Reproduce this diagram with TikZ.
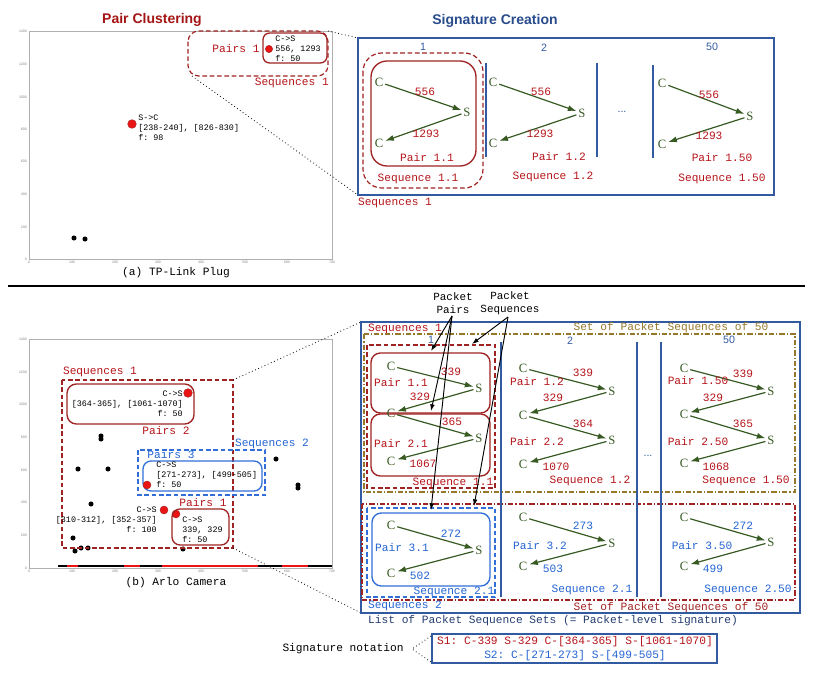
\documentclass[tikz,border=0pt]{standalone}
\usepackage{fontspec}
\setmainfont{Liberation Serif}
\setsansfont{Liberation Sans}
\setmonofont{Liberation Mono}
\usetikzlibrary{arrows.meta}
\usetikzlibrary{positioning}

\definecolor{titlered}{RGB}{165,20,20}
\definecolor{boxred}{RGB}{160,35,35}
\definecolor{txtred}{RGB}{180,20,25}
\definecolor{dotred}{RGB}{235,20,20}
\definecolor{titleblue}{RGB}{40,75,140}
\definecolor{frameblue}{RGB}{50,90,160}
\definecolor{navy}{RGB}{35,60,110}
\definecolor{txtblue}{RGB}{35,100,210}
\definecolor{boxblue}{RGB}{50,110,215}
\definecolor{arrgreen}{RGB}{55,90,35}
\definecolor{setolive}{RGB}{150,120,45}
\definecolor{axisgray}{RGB}{175,175,175}

\begin{document}
\begin{tikzpicture}[x=0.75pt,y=-0.75pt,
  mono/.style={font=\fontsize{8.4}{10}\ttfamily,inner sep=0pt},
  scattxt/.style={font=\fontsize{6.3}{7.5}\ttfamily,inner sep=0pt},
  tick/.style={font=\fontsize{2.6}{3}\sffamily,text=gray,inner sep=0pt},
  ep/.style={font=\fontsize{9.5}{10}\rmfamily,text=arrgreen,inner sep=1.3pt},
  flow/.style={draw=arrgreen,line width=0.9pt,-{Latex[length=6.5pt,width=4.5pt]}},
  pairbox/.style={draw=boxred,line width=1pt,rounded corners=7pt},
  bluebox/.style={draw=boxblue,line width=1pt,rounded corners=7pt},
  blkdot/.style={circle,fill=black,inner sep=0pt,minimum size=3.8pt},
  reddot/.style={circle,fill=dotred,draw=boxred,line width=0.3pt,inner sep=0pt,minimum size=5.5pt},
  zoomline/.style={dotted,line width=0.6pt},
  note/.style={-{Latex[length=5pt,width=3.5pt]},line width=0.7pt},
  colnum/.style={font=\fontsize{8}{9}\sffamily,text=frameblue,inner sep=0pt},
  sep/.style={frameblue,line width=0.9pt}]
\useasboundingbox (0,0) rectangle (817,677);

% ---------- (a) TP-Link Plug ----------
\node[font=\fontsize{10.5}{12}\sffamily\bfseries,text=titlered] (ttla) at (152,20) {Pair Clustering};
\draw[axisgray,line width=0.5pt] (29,31) rectangle (332,259);
\node[tick,anchor=east] (ya0) at (27,259) {0};
\node[tick,anchor=east] (ya1) at (27,227) {200};
\node[tick,anchor=east] (ya2) at (27,194) {400};
\node[tick,anchor=east] (ya3) at (27,161) {600};
\node[tick,anchor=east] (ya4) at (27,129) {800};
\node[tick,anchor=east] (ya5) at (27,97) {1000};
\node[tick,anchor=east] (ya6) at (27,64) {1200};
\node[tick,anchor=east] (ya7) at (27,31) {1400};
\node[tick,anchor=north] (xa0) at (29,261) {0};
\node[tick,anchor=north] (xa1) at (72,261) {100};
\node[tick,anchor=north] (xa2) at (115,261) {200};
\node[tick,anchor=north] (xa3) at (158,261) {300};
\node[tick,anchor=north] (xa4) at (201,261) {400};
\node[tick,anchor=north] (xa5) at (245,261) {500};
\node[tick,anchor=north] (xa6) at (287,261) {600};
\node[tick,anchor=north] (xa7) at (332,261) {700};

\node[blkdot] (da1) at (74,238) {};
\node[blkdot] (da2) at (85,239) {};
\node[reddot,minimum size=6.5pt] (da3) at (132,124) {};
\node[scattxt,anchor=west,align=left] (ta3) at (138,127.5) {S->C\\{}[238-240], [826-830]\\f: 98};

\draw[boxred,line width=0.9pt,rounded corners=8pt,dash pattern=on 3.5pt off 2pt] (188,31) rectangle (328,76);
\node[mono,text=txtred] (pa1) at (236,49) {Pairs 1};
\draw[pairbox,rounded corners=5pt] (263,33) rectangle (327,63);
\node[reddot] (da4) at (269,49) {};
\node[scattxt,anchor=west,align=left] (ta4) at (275,49) {C->S\\556, 1293\\f: 50};
\node[mono,text=txtred,anchor=east] (sqa1) at (329,83) {Sequences 1};
\node[mono] (capa) at (176,273) {(a) TP-Link Plug};

\coordinate (za1) at (328,31);
\coordinate (za2) at (192,76);
\coordinate (sa1) at (358,38);
\coordinate (sa2) at (358,195);
\draw[zoomline] (za1) -- (sa1);
\draw[zoomline] (za2) -- (sa2);

% signature creation
\node[font=\fontsize{10.5}{12}\sffamily\bfseries,text=titleblue] (ttlb) at (495,21) {Signature Creation};
\draw[frameblue,line width=0.9pt] (358,38) rectangle (774,195);
\node[colnum] (ka1) at (423,47) {1};
\node[colnum] (ka2) at (544,48) {2};
\node[colnum] (ka50) at (712,47) {50};

\draw[boxred,line width=0.9pt,rounded corners=14pt,dash pattern=on 3.5pt off 2pt] (363,53) rectangle (483,188);
\draw[pairbox,rounded corners=12pt] (371,61) rectangle (476,166);
\node[ep] (c11) at (379,82) {C};
\node[ep] (s11) at (467,112) {S};
\node[ep] (c12) at (379,143) {C};
\draw[flow] (c11) -- (s11);
\draw[flow] (s11) -- (c12);
\node[mono,text=txtred] (n11) at (425,92) {556};
\node[mono,text=txtred] (n12) at (426,134) {1293};
\node[mono,text=txtred] (pr11) at (427,157) {Pair 1.1};
\node[mono,text=txtred] (sq11) at (418,179) {Sequence 1.1};
\draw[sep] (486,63) -- (486,157);

\node[ep] (c21) at (493,82) {C};
\node[ep] (s21) at (582,113) {S};
\node[ep] (c22) at (493,143) {C};
\draw[flow] (c21) -- (s21);
\draw[flow] (s21) -- (c22);
\node[mono,text=txtred] (n21) at (541,92) {556};
\node[mono,text=txtred] (n22) at (540,134) {1293};
\node[mono,text=txtred] (pr12) at (559,156) {Pair 1.2};
\node[mono,text=txtred] (sq12) at (553,177) {Sequence 1.2};
\draw[sep] (597,63) -- (597,157);
\node[font=\fontsize{8}{9}\sffamily,text=frameblue] (dots1) at (622,112) {...};
\draw[sep] (653,65) -- (653,158);

\node[ep] (c31) at (662,83) {C};
\node[ep] (s31) at (750,116) {S};
\node[ep] (c32) at (662,144) {C};
\draw[flow] (c31) -- (s31);
\draw[flow] (s31) -- (c32);
\node[mono,text=txtred] (n31) at (709,95) {556};
\node[mono,text=txtred] (n32) at (709,136) {1293};
\node[mono,text=txtred] (pr150) at (722,157) {Pair 1.50};
\node[mono,text=txtred] (sq150) at (722,179) {Sequence 1.50};
\node[mono,text=txtred] (sqa2) at (395,203) {Sequences 1};

\draw[line width=0.8pt] (8,286) -- (805,286);

% ---------- (b) Arlo Camera ----------
\draw[axisgray,line width=0.5pt] (29,339) rectangle (332,568);
\node[tick,anchor=east] (yb0) at (27,568) {0};
\node[tick,anchor=east] (yb1) at (27,535) {200};
\node[tick,anchor=east] (yb2) at (27,502) {400};
\node[tick,anchor=east] (yb3) at (27,470) {600};
\node[tick,anchor=east] (yb4) at (27,437) {800};
\node[tick,anchor=east] (yb5) at (27,404) {1000};
\node[tick,anchor=east] (yb6) at (27,372) {1200};
\node[tick,anchor=east] (yb7) at (27,339) {1400};
\node[tick,anchor=north] (xb0) at (29,570) {0};
\node[tick,anchor=north] (xb1) at (72,570) {100};
\node[tick,anchor=north] (xb2) at (115,570) {200};
\node[tick,anchor=north] (xb3) at (158,570) {300};
\node[tick,anchor=north] (xb4) at (201,570) {400};
\node[tick,anchor=north] (xb5) at (245,570) {500};
\node[tick,anchor=north] (xb6) at (287,570) {600};
\node[tick,anchor=north] (xb7) at (332,570) {700};

\draw[line width=2.2pt] (58,566) -- (332,566);
\draw[dotred,line width=2pt] (67,566) -- (78,566);
\draw[dotred,line width=2pt] (124,566) -- (140,566);
\draw[dotred,line width=2pt] (162,566) -- (258,566);
\draw[dotred,line width=2pt] (282,566) -- (308,566);

\node[blkdot] (db1) at (101,436) {};
\node[blkdot] (db2) at (101,439) {};
\node[blkdot] (db3) at (78,469) {};
\node[blkdot] (db4) at (108,469) {};
\node[blkdot] (db5) at (91,504) {};
\node[blkdot] (db6) at (73,538) {};
\node[blkdot] (db7) at (75,551) {};
\node[blkdot] (db8) at (81,548) {};
\node[blkdot] (db9) at (88,548) {};
\node[blkdot] (db10) at (183,549) {};
\node[blkdot] (db11) at (276,459) {};
\node[blkdot] (db12) at (298,485) {};
\node[blkdot] (db13) at (298,488) {};

\draw[boxred,line width=0.9pt,dash pattern=on 3.5pt off 2pt] (62,380) rectangle (233,548);
\node[mono,text=txtred] (sqb1) at (100,372) {Sequences 1};
\draw[pairbox] (67,384) rectangle (194,424);
\node[reddot,minimum size=6.5pt] (dr1) at (188,393) {};
\node[scattxt,anchor=east,align=right] (tr1) at (183,403.5) {C->S\\{}[364-365], [1061-1070]\\f: 50};
\node[mono,text=txtred] (pb2) at (166,430) {Pairs 2};

\draw[boxblue,line width=0.9pt,dash pattern=on 3.5pt off 2pt] (138,450) rectangle (265,495);
\node[mono,text=txtblue] (sqb2) at (272,444) {Sequences 2};
\node[mono,text=txtblue] (pb3) at (171,454) {Pairs 3};
\draw[bluebox,rounded corners=6pt] (143,461) rectangle (262,491);
\node[reddot,minimum size=6pt] (dr2) at (147,485) {};
\node[scattxt,anchor=west,align=left] (tr2) at (156,475) {C->S\\{}[271-273], [499-505]\\f: 50};

\node[reddot,minimum size=6pt] (dr3) at (164,510) {};
\node[scattxt,anchor=east,align=right] (tr3) at (157,520) {C->S\\{}[310-312], [352-357]\\f: 100};
\node[reddot,minimum size=6pt] (dr4) at (176,514) {};
\node[mono,text=txtred] (pb1) at (203,502) {Pairs 1};
\draw[pairbox,rounded corners=6pt] (172,509) rectangle (229,545);
\node[scattxt,anchor=west,align=left] (tr4) at (182,530) {C->S\\339, 329\\f: 50};
\node[mono] (capb) at (176,583) {(b) Arlo Camera};

\coordinate (zb1) at (233,380);
\coordinate (zb2) at (233,548);
\coordinate (sb1) at (361,322);
\coordinate (sb2) at (361,613);
\draw[zoomline] (zb1) -- (sb1);
\draw[zoomline] (zb2) -- (sb2);

% packet-level signature
\draw[frameblue,line width=0.9pt] (361,322) rectangle (800,613);
\node[mono,text=txtred] (sqc1) at (405,329) {Sequences 1};
\node[mono,text=setolive] (set1) at (671,328) {Set of Packet Sequences of 50};
\draw[setolive,line width=0.9pt,dash pattern=on 4pt off 1.5pt on 1pt off 1.5pt] (364,334) rectangle (795,492);
\node[colnum] (kb1) at (431,340) {1};
\node[colnum] (kb2) at (570,341) {2};
\node[colnum] (kb50) at (729,340) {50};

\draw[boxred,line width=0.9pt,dash pattern=on 3.5pt off 2pt] (367,345) rectangle (495,488);
\draw[pairbox] (371,353) rectangle (490,413);
\draw[pairbox] (371,414) rectangle (490,476);
\node[ep] (u11) at (391,366) {C};
\node[ep] (v11) at (479,388) {S};
\node[ep] (u12) at (391,413) {C};
\node[ep] (v12) at (479,438) {S};
\node[ep] (u13) at (391,461) {C};
\draw[flow] (u11) -- (v11);
\draw[flow] (v11) -- (u12);
\draw[flow] (u12) -- (v12);
\draw[flow] (v12) -- (u13);
\node[mono,text=txtred] (m11) at (451,372) {339};
\node[mono,text=txtred] (q11) at (401,382) {Pair 1.1};
\node[mono,text=txtred] (m12) at (420,397) {329};
\node[mono,text=txtred] (m13) at (452,422) {365};
\node[mono,text=txtred] (q21) at (401,443) {Pair 2.1};
\node[mono,text=txtred] (m14) at (423,464) {1067};
\node[mono,text=txtred] (r11) at (453,483) {Sequence 1.1};

\node[ep] (u21) at (523,368) {C};
\node[ep] (v21) at (612,391) {S};
\node[ep] (u22) at (523,415) {C};
\node[ep] (v22) at (612,440) {S};
\node[ep] (u23) at (523,464) {C};
\draw[flow] (u21) -- (v21);
\draw[flow] (v21) -- (u22);
\draw[flow] (u22) -- (v22);
\draw[flow] (v22) -- (u23);
\node[mono,text=txtred] (m21) at (583,373) {339};
\node[mono,text=txtred] (q12) at (537,381) {Pair 1.2};
\node[mono,text=txtred] (m22) at (553,398) {329};
\node[mono,text=txtred] (m23) at (583,424) {364};
\node[mono,text=txtred] (q22) at (537,441) {Pair 2.2};
\node[mono,text=txtred] (m24) at (556,467) {1070};
\node[mono,text=txtred] (r12) at (590,481) {Sequence 1.2};

\node[ep] (u31) at (684,368) {C};
\node[ep] (v31) at (771,391) {S};
\node[ep] (u32) at (684,414) {C};
\node[ep] (v32) at (771,440) {S};
\node[ep] (u33) at (684,463) {C};
\draw[flow] (u31) -- (v31);
\draw[flow] (v31) -- (u32);
\draw[flow] (u32) -- (v32);
\draw[flow] (v32) -- (u33);
\node[mono,text=txtred] (m31) at (743,374) {339};
\node[mono,text=txtred] (q150) at (698,380) {Pair 1.50};
\node[mono,text=txtred] (m32) at (713,398) {329};
\node[mono,text=txtred] (m33) at (743,424) {365};
\node[mono,text=txtred] (q250) at (698,441) {Pair 2.50};
\node[mono,text=txtred] (m34) at (716,467) {1068};
\node[mono,text=txtred] (r150) at (746,481) {Sequence 1.50};

\draw[boxred,line width=0.9pt,dash pattern=on 4pt off 1.5pt on 1pt off 1.5pt] (362,504) rectangle (795,600);
\node[mono,text=boxred] (set2) at (671,608) {Set of Packet Sequences of 50};
\draw[boxblue,line width=0.9pt,dash pattern=on 3.5pt off 2pt] (367,508) rectangle (495,597);
\draw[bluebox] (372,513) rectangle (490,586);
\node[ep] (w11) at (391,525) {C};
\node[ep] (x11) at (479,550) {S};
\node[ep] (w12) at (391,573) {C};
\draw[flow] (w11) -- (x11);
\draw[flow] (x11) -- (w12);
\node[mono,text=txtblue] (h11) at (451,534) {272};
\node[mono,text=txtblue] (q31) at (402,547) {Pair 3.1};
\node[mono,text=txtblue] (h12) at (420,576) {502};
\node[mono,text=txtblue] (r21) at (454,592) {Sequence 2.1};

\node[ep] (w21) at (523,517) {C};
\node[ep] (x21) at (612,543) {S};
\node[ep] (w22) at (523,566) {C};
\draw[flow] (w21) -- (x21);
\draw[flow] (x21) -- (w22);
\node[mono,text=txtblue] (h21) at (583,526) {273};
\node[mono,text=txtblue] (q32) at (540,545) {Pair 3.2};
\node[mono,text=txtblue] (h22) at (553,569) {503};
\node[mono,text=txtblue] (r22) at (592,590) {Sequence 2.1};

\node[ep] (w31) at (684,517) {C};
\node[ep] (x31) at (771,542) {S};
\node[ep] (w32) at (684,566) {C};
\draw[flow] (w31) -- (x31);
\draw[flow] (x31) -- (w32);
\node[mono,text=txtblue] (h31) at (743,526) {272};
\node[mono,text=txtblue] (q350) at (702,545) {Pair 3.50};
\node[mono,text=txtblue] (h32) at (713,569) {499};
\node[mono,text=txtblue] (r250) at (748,590) {Sequence 2.50};

\draw[sep] (501,342) -- (501,597);
\draw[sep] (637,342) -- (637,597);
\draw[sep] (661,342) -- (661,597);
\node[font=\fontsize{8}{9}\sffamily,text=frameblue] (dots2) at (648,456) {...};
\node[mono,text=txtblue] (sqc2) at (405,606) {Sequences 2};
\node[mono,text=navy] (lst) at (553,621) {List of Packet Sequence Sets (= Packet-level signature)};

% callouts
\node[mono,align=center,font=\fontsize{8.2}{9.8}\ttfamily] (ppairs) at (453,303.5) {Packet\\Pairs};
\node[mono,align=center,font=\fontsize{8.2}{9.8}\ttfamily] (pseqs) at (510,303.5) {Packet\\Sequences};
\coordinate (pp) at (452,316);
\coordinate (ps) at (508,317);
\coordinate (pp1) at (431,351);
\coordinate (pp2) at (431,411);
\coordinate (pp3) at (431,510);
\coordinate (ps1) at (472,344);
\coordinate (ps2) at (474,506);
\draw[note] (pp) -- (pp1);
\draw[note] (pp) -- (pp2);
\draw[note] (pp) -- (pp3);
\draw[note] (ps) -- (ps1);
\draw[note] (ps) -- (ps2);

% notation
\node[mono] (signote) at (343,649) {Signature notation};
\draw[frameblue,line width=0.9pt] (432,634) rectangle (717,663);
\node[mono,align=center] (sigtxt) at (575,648.5) {\textcolor{txtred}{S1: C-339 S-329 C-[364-365] S-[1061-1070]}\\\textcolor{txtblue}{S2: C-[271-273] S-[499-505]}};
\coordinate (nt) at (412,649);
\coordinate (nt1) at (431,636);
\coordinate (nt2) at (431,662);
\draw[zoomline] (nt1) -- (nt) -- (nt2);

\end{tikzpicture}
\end{document}
